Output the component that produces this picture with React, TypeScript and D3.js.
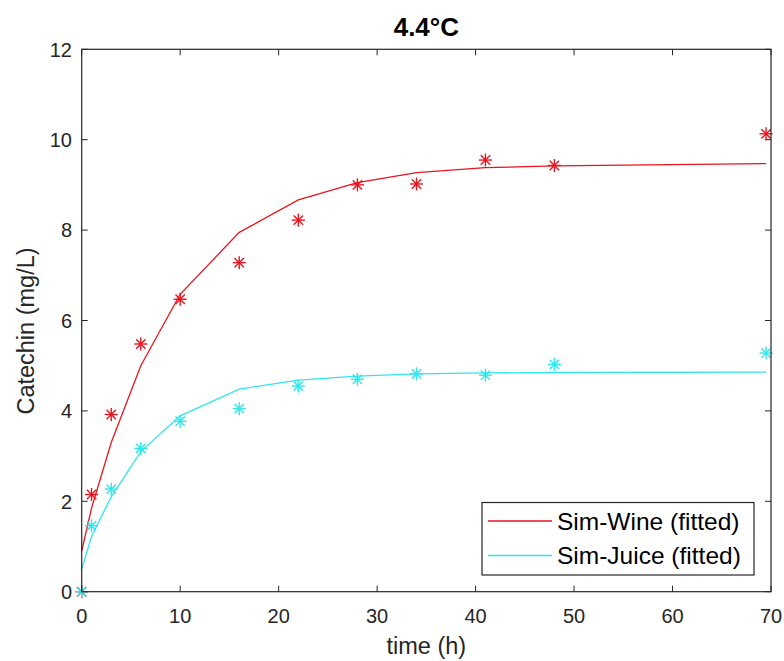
import React from "react";
import * as d3 from "d3";

const obsTime = [0, 1, 3, 6, 10, 16, 22, 28, 34, 41, 48, 69.5];
const wineObs = [0, 2.15, 3.92, 5.48, 6.47, 7.28, 8.22, 9.0, 9.02, 9.55, 9.43, 10.13];
const juiceObs = [0, 1.46, 2.27, 3.17, 3.77, 4.05, 4.55, 4.7, 4.82, 4.79, 5.03, 5.28];

const fitTime = [0, 1, 3, 6, 10, 16, 22, 28, 34, 41, 48, 69.5];
const wineFit = [0.9, 1.85, 3.3, 5.0, 6.58, 7.95, 8.67, 9.05, 9.27, 9.38, 9.42, 9.47];
const juiceFit = [0.5, 1.22, 2.1, 3.1, 3.89, 4.48, 4.68, 4.77, 4.82, 4.84, 4.85, 4.86];

const xTicks = [0, 10, 20, 30, 40, 50, 60, 70];
const yTicks = [0, 2, 4, 6, 8, 10, 12];
const legendLabels = ["Sim-Wine (fitted)", "Sim-Juice (fitted)"];

const W = 784;
const H = 661;
const L = 81.7, R = 771, T = 49.3, B = 591.7;
const RED = "#e8141e";
const CYAN = "#2fe6ec";
const AX = "#262626";
const FONT = "'Liberation Sans', Arial, Helvetica, sans-serif";

function Star({ x, y, color }: { x: number; y: number; color: string }) {
  const s = 6.5;
  const d = s * 0.72;
  return (
    <g stroke={color} strokeWidth={1.4}>
      <line x1={x - s} y1={y} x2={x + s} y2={y} />
      <line x1={x} y1={y - s} x2={x} y2={y + s} />
      <line x1={x - d} y1={y - d} x2={x + d} y2={y + d} />
      <line x1={x - d} y1={y + d} x2={x + d} y2={y - d} />
    </g>
  );
}

export default function App() {
  const x = d3.scaleLinear().domain([0, 70]).range([L, R]);
  const y = d3.scaleLinear().domain([0, 12]).range([B, T]);
  const line = d3
    .line<[number, number]>()
    .x((d) => x(d[0]))
    .y((d) => y(d[1]));
  const wineLine = line(fitTime.map((t, i) => [t, wineFit[i]]));
  const juiceLine = line(fitTime.map((t, i) => [t, juiceFit[i]]));
  const tl = 6;

  return (
    <svg
      width={W}
      height={H}
      style={{ position: "absolute", left: 0, top: 0, background: "#fff" }}
      fontFamily={FONT}
    >
      <rect x={0} y={0} width={W} height={H} fill="#fff" />
      <g stroke={AX} strokeWidth={1}>
        {xTicks.map((t) => (
          <g key={"xt" + t}>
            <line x1={x(t)} x2={x(t)} y1={B} y2={B - tl} />
            <line x1={x(t)} x2={x(t)} y1={T} y2={T + tl} />
          </g>
        ))}
        {yTicks.map((t) => (
          <g key={"yt" + t}>
            <line x1={L} x2={L + tl} y1={y(t)} y2={y(t)} />
            <line x1={R} x2={R - tl} y1={y(t)} y2={y(t)} />
          </g>
        ))}
      </g>
      <path d={wineLine || ""} fill="none" stroke={RED} strokeWidth={1.3} />
      <path d={juiceLine || ""} fill="none" stroke={CYAN} strokeWidth={1.3} />
      {obsTime.map((t, i) => (
        <Star key={"w" + i} x={x(t)} y={y(wineObs[i])} color={RED} />
      ))}
      {obsTime.map((t, i) => (
        <Star key={"j" + i} x={x(t)} y={y(juiceObs[i])} color={CYAN} />
      ))}
      <rect x={L} y={T} width={R - L} height={B - T} fill="none" stroke={AX} strokeWidth={1.2} />
      <g fill={AX} fontSize={20}>
        {xTicks.map((t) => (
          <text key={"xl" + t} x={x(t)} y={623} textAnchor="middle">
            {t}
          </text>
        ))}
        {yTicks.map((t) => (
          <text key={"yl" + t} x={72} y={y(t)} dy="0.36em" textAnchor="end">
            {t}
          </text>
        ))}
      </g>
      <text x={(L + R) / 2} y={654} textAnchor="middle" fontSize={23.5} fill={AX}>
        time (h)
      </text>
      <text
        transform={`translate(34, 331) rotate(-90)`}
        textAnchor="middle"
        fontSize={23.5}
        fill={AX}
      >
        Catechin (mg/L)
      </text>
      <text x={(L + R) / 2} y={36} textAnchor="middle" fontSize={26} fontWeight="bold" fill="#000">
        4.4°C
      </text>
      <rect x={482} y={502.5} width={272} height={72.5} fill="#fff" stroke={AX} strokeWidth={1.2} />
      {legendLabels.map((lab, i) => {
        const ly = i === 0 ? 521 : 555.5;
        const c = i === 0 ? RED : CYAN;
        return (
          <g key={lab}>
            <line x1={488} x2={552} y1={ly} y2={ly} stroke={c} strokeWidth={1.3} />
            <text x={557} y={ly} dy="0.36em" fontSize={24.5} fill="#000">
              {lab}
            </text>
          </g>
        );
      })}
    </svg>
  );
}
